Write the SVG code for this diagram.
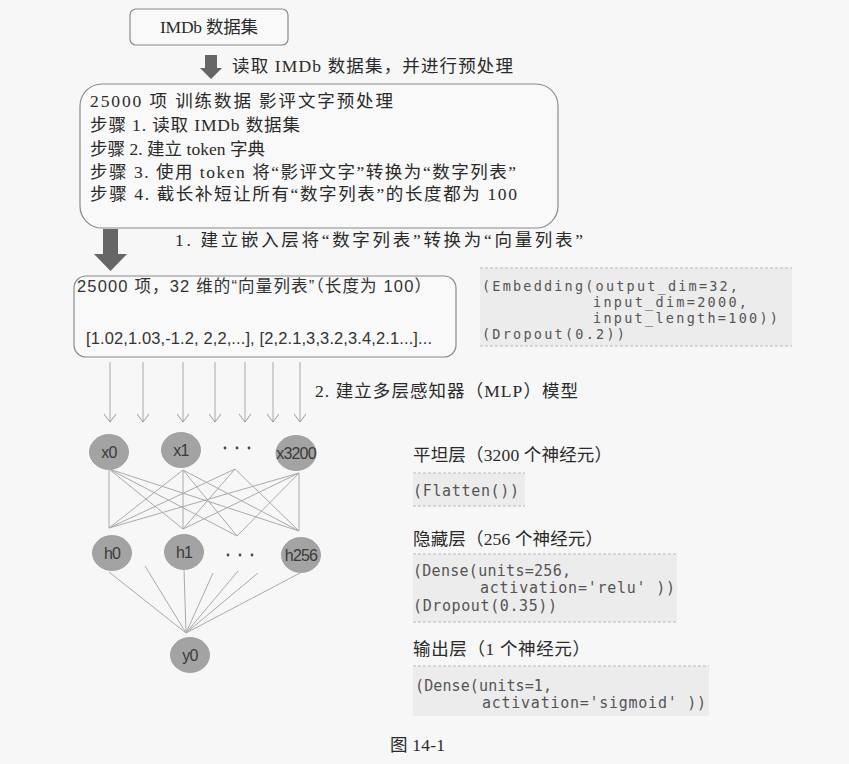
<svg xmlns="http://www.w3.org/2000/svg" width="849" height="764" viewBox="0 0 849 764">
<style>
.bg{fill:#f7f7f7}
.box{fill:#f9f9f9;stroke:#8a8a8a;stroke-width:1.2}
.t{font-family:"Liberation Serif","Noto Sans CJK SC",serif;font-size:17.5px;fill:#2a2a2a}
.ts{font-family:"Liberation Sans","Noto Sans CJK SC",sans-serif;font-size:16.5px;fill:#333}
.code{font-family:"DejaVu Sans Mono",monospace;font-size:15px;fill:#555}
.codeE{font-family:"DejaVu Sans Mono",monospace;font-size:13.5px;fill:#555}
.codebg{fill:#ececec}
.dash{stroke:#bbb;stroke-width:1;stroke-dasharray:3 2;fill:none}
.fat{fill:#666}
.thin{stroke:#aaa;stroke-width:1;fill:none}
.node{fill:#a3a3a3;stroke:#999;stroke-width:0.8}
.nt{font-family:"Liberation Sans",sans-serif;font-size:16px;fill:#3a3a3a;text-anchor:middle;letter-spacing:-0.8px}
.dot{fill:#444}
</style>
<defs>
<marker id="open" viewBox="0 0 12 12" refX="11" refY="6" markerWidth="12" markerHeight="12" markerUnits="userSpaceOnUse" orient="auto">
<path d="M3,0 L11,6 L3,12" fill="none" stroke="#999" stroke-width="1"/>
</marker>
</defs>
<rect class="bg" x="0" y="0" width="849" height="764"/>

<g id="imdb">
<rect class="box" x="130" y="9" width="158" height="36" rx="6"/>
<text class="t" x="160" y="33" textLength="98" lengthAdjust="spacing">IMDb 数据集</text>
</g>

<g id="preprocess">
<rect class="box" x="80" y="84" width="478" height="144" rx="22"/>
<text class="t" x="90" y="107" textLength="303" lengthAdjust="spacing">25000 项  训练数据  影评文字预处理</text>
<text class="t" x="90" y="131" textLength="210" lengthAdjust="spacing">步骤 1. 读取  IMDb 数据集</text>
<text class="t" x="90" y="155" textLength="175" lengthAdjust="spacing">步骤 2. 建立  token  字典</text>
<text class="t" x="90" y="178" textLength="426" lengthAdjust="spacing">步骤 3. 使用  token  将“影评文字”转换为“数字列表”</text>
<text class="t" x="90" y="200" textLength="427" lengthAdjust="spacing">步骤  4. 截长补短让所有“数字列表”的长度都为  100</text>
</g>

<g id="vectors">
<rect class="box" x="74" y="276" width="382" height="81" rx="12"/>
<text class="ts" x="77" y="292" textLength="354" lengthAdjust="spacing">25000 项，32 维的“向量列表”（长度为 100）</text>
<text class="ts" x="86" y="344" textLength="346" lengthAdjust="spacing">[1.02,1.03,-1.2, 2,2,...], [2,2.1,3,3.2,3.4,2.1...]...</text>
</g>

<g id="embedding-code">
<rect class="codebg" x="480" y="268" width="312" height="78"/>
<line class="dash" x1="480" y1="268" x2="792" y2="268"/>
<line class="dash" x1="480" y1="346" x2="792" y2="346"/>
<text class="codeE" x="482" y="291" textLength="256" lengthAdjust="spacing">(Embedding(output_dim=32,</text>
<text class="codeE" x="593" y="307" textLength="154" lengthAdjust="spacing">input_dim=2000,</text>
<text class="codeE" x="593" y="323" textLength="185" lengthAdjust="spacing">input_length=100))</text>
<text class="codeE" x="482" y="339" textLength="143" lengthAdjust="spacing">(Dropout(0.2))</text>
</g>

<g id="x0"><ellipse class="node" cx="109" cy="452" rx="19.5" ry="17.5"/><text class="nt" x="109" y="458">x0</text></g>
<g id="x1"><ellipse class="node" cx="181" cy="450" rx="19.5" ry="17.5"/><text class="nt" x="181" y="456">x1</text></g>
<g id="xdots"><circle class="dot" cx="225" cy="448" r="1.4"/><circle class="dot" cx="237" cy="448" r="1.4"/><circle class="dot" cx="249" cy="448" r="1.4"/></g>
<g id="x3200"><ellipse class="node" cx="296" cy="453" rx="20" ry="17.5"/><text class="nt" x="296" y="459">x3200</text></g>

<g id="h0"><ellipse class="node" cx="112" cy="553" rx="19.5" ry="17.5"/><text class="nt" x="112" y="559">h0</text></g>
<g id="h1"><ellipse class="node" cx="184" cy="552" rx="19.5" ry="17.5"/><text class="nt" x="184" y="558">h1</text></g>
<g id="hdots"><circle class="dot" cx="228" cy="555" r="1.4"/><circle class="dot" cx="240" cy="555" r="1.4"/><circle class="dot" cx="252" cy="555" r="1.4"/></g>
<g id="h256"><ellipse class="node" cx="301" cy="555" rx="19.5" ry="17.5"/><text class="nt" x="301" y="561">h256</text></g>

<g id="y0"><ellipse class="node" cx="190" cy="655" rx="19.5" ry="17.5"/><text class="nt" x="190" y="661">y0</text></g>

<g id="right-text">
<text class="t" x="413" y="461" textLength="199" lengthAdjust="spacing">平坦层（3200 个神经元）</text>
<rect class="codebg" x="413" y="473" width="112" height="33"/>
<line class="dash" x1="413" y1="473" x2="525" y2="473"/>
<line class="dash" x1="413" y1="506" x2="525" y2="506"/>
<text class="code" x="413" y="496" textLength="106" lengthAdjust="spacing">(Flatten())</text>
<text class="t" x="413" y="545" textLength="190" lengthAdjust="spacing">隐藏层（256 个神经元）</text>
<rect class="codebg" x="413" y="554" width="264" height="68"/>
<line class="dash" x1="413" y1="554" x2="677" y2="554"/>
<line class="dash" x1="413" y1="622" x2="677" y2="622"/>
<text class="code" x="413" y="576" textLength="158" lengthAdjust="spacing">(Dense(units=256,</text>
<text class="code" x="480" y="593" textLength="195" lengthAdjust="spacing">activation='relu' ))</text>
<text class="code" x="413" y="611" textLength="144" lengthAdjust="spacing">(Dropout(0.35))</text>
<text class="t" x="413" y="655" textLength="177" lengthAdjust="spacing">输出层（1 个神经元）</text>
<rect class="codebg" x="413" y="666" width="296" height="50"/>
<line class="dash" x1="413" y1="666" x2="709" y2="666"/>
<text class="code" x="415" y="691" textLength="137" lengthAdjust="spacing">(Dense(units=1,</text>
<text class="code" x="482" y="708" textLength="224" lengthAdjust="spacing">activation='sigmoid' ))</text>
<text class="t" x="390" y="751" textLength="55" lengthAdjust="spacing">图 14-1</text>
</g>

<g id="connectors">
<path class="fat" d="M205,55 H217 V68 H222 L211,79 L200,68 H205 Z"/>
<text class="t" x="232" y="72" textLength="281" lengthAdjust="spacing">读取  IMDb  数据集，并进行预处理</text>
<path class="fat" d="M103,229 H118 V254 H127 L110.5,271 L94,254 H103 Z"/>
<text class="t" x="175" y="246" textLength="408" lengthAdjust="spacing">1. 建立嵌入层将“数字列表”转换为“向量列表”</text>
<text class="t" x="315" y="397" textLength="263" lengthAdjust="spacing">2. 建立多层感知器（MLP）模型</text>
<g class="thin">
<line x1="110" y1="362" x2="110" y2="422" marker-end="url(#open)"/>
<line x1="143" y1="362" x2="143" y2="422" marker-end="url(#open)"/>
<line x1="183" y1="362" x2="183" y2="422" marker-end="url(#open)"/>
<line x1="215" y1="362" x2="215" y2="422" marker-end="url(#open)"/>
<line x1="245" y1="362" x2="245" y2="422" marker-end="url(#open)"/>
<line x1="273" y1="362" x2="273" y2="422" marker-end="url(#open)"/>
<line x1="300" y1="362" x2="300" y2="422" marker-end="url(#open)"/>
</g>
<g class="thin" stroke="#bbb">
<line x1="109" y1="469" x2="109" y2="528"/>
<line x1="109" y1="469" x2="183" y2="529"/>
<line x1="109" y1="469" x2="237" y2="536"/>
<line x1="109" y1="469" x2="299" y2="531"/>
<line x1="183" y1="470" x2="109" y2="528"/>
<line x1="183" y1="470" x2="183" y2="529"/>
<line x1="183" y1="470" x2="237" y2="536"/>
<line x1="183" y1="470" x2="299" y2="531"/>
<line x1="235" y1="469" x2="109" y2="528"/>
<line x1="235" y1="469" x2="183" y2="529"/>
<line x1="235" y1="469" x2="299" y2="531"/>
<line x1="299" y1="473" x2="109" y2="528"/>
<line x1="299" y1="473" x2="183" y2="529"/>
<line x1="299" y1="473" x2="237" y2="536"/>
<line x1="299" y1="473" x2="299" y2="531"/>
<line x1="109" y1="572" x2="186" y2="633"/>
<line x1="145" y1="566" x2="186" y2="633"/>
<line x1="184" y1="569" x2="186" y2="633"/>
<line x1="213" y1="573" x2="186" y2="633"/>
<line x1="238" y1="571" x2="186" y2="633"/>
<line x1="258" y1="573" x2="186" y2="633"/>
<line x1="300" y1="573" x2="186" y2="633"/>
</g>
</g>
</svg>
